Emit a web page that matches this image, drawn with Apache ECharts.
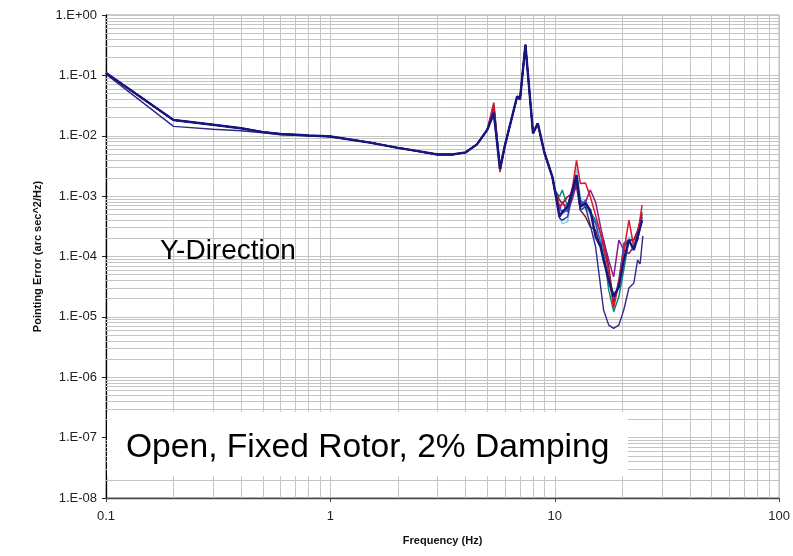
<!DOCTYPE html>
<html>
<head>
<meta charset="utf-8">
<script src="https://cdn.jsdelivr.net/npm/echarts@6/dist/echarts.min.js"></script>
<style>html,body{margin:0;padding:0;background:#fff;}#c{width:793px;height:556px;}</style>
</head>
<body>
<div id="c"></div>
<script>
// ---- data ----
const xTicks = ['0.1', '1', '10', '100'];
const yTicks = ['1.E-08','1.E-07','1.E-06','1.E-05','1.E-04','1.E-03','1.E-02','1.E-01','1.E+00'];

const freqLow = [0.1,0.2,0.3,0.4,0.5,0.6,0.7,0.8,0.9,1,1.5,2,2.5,3,3.5,4,4.5,5,5.35,5.7,6,6.8,7.0,7.4,8.0,8.4,9.0,9.75];
const baseLow = [0.11,0.0182,0.0152,0.0133,0.0115,0.0107,0.0104,0.0101,0.0099,0.0097,0.0077,0.0063,0.0055,0.0049,0.0049,0.0053,0.0072,0.0125,0.024,0.0028,0.007,0.045,0.04,0.32,0.011,0.016,0.0052,0.0021];
const lowerNavyStart = [0.105,0.0143,0.0128,0.0121,0.0112,0.0104,0.0102,0.0100];

const seriesNames = ['Navy','Lower','Red','Purple','Teal','Cyan','Blue','Maroon'];
const peak535 = [0.024,0.022,0.035,0.027,0.030,0.036,0.025,0.032];
const dip57   = [0.0028,0.0028,0.0025,0.0030,0.0031,0.0033,0.0030,0.0026];

const freqHigh = [10,10.5,10.8,11.4,12,12.5,13,13.7,14.4,15.2,16,16.5,17.4,18.3,19.3,20.3,21.4,22.5,23.4,24.5];
const navyHigh   = [1.26e-3,4.55e-4,5.5e-4,6.66e-4,1.26e-3,2.23e-3,6.66e-4,7.56e-4,5.86e-4,2.12e-4,1.45e-4,8.7e-5,4.07e-5,2.15e-5,3.15e-5,8.7e-5,1.87e-4,1.28e-4,2.12e-4,4.0e-4];
const redHigh    = [1.26e-3,6.7e-4,7.6e-4,6.7e-4,1.43e-3,3.9e-3,1.62e-3,1.65e-3,9.8e-4,4.85e-4,2.4e-4,1.55e-4,5.2e-5,1.4e-5,3.7e-5,1.2e-4,4.0e-4,1.45e-4,2.3e-4,7.1e-4];
const purpleHigh = [1.26e-3,5.9e-4,8.0e-4,5.5e-4,9.1e-4,1.62e-3,7.6e-4,8.0e-4,1.26e-3,8.0e-4,3.1e-4,1.87e-4,8.7e-5,4.6e-5,1.87e-4,1.28e-4,1.12e-4,1.45e-4,1.87e-4,4.55e-4];
const tealHigh   = [1.26e-3,9.75e-4,1.26e-3,6.7e-4,1.11e-3,1.84e-3,8.6e-4,6.7e-4,5.5e-4,4.0e-4,2.4e-4,1.28e-4,2.8e-5,1.22e-5,2.15e-5,6.0e-5,1.87e-4,1.87e-4,2.4e-4,5.5e-4];
const cyanHigh   = [1.62e-3,4.55e-4,3.5e-4,3.75e-4,1.26e-3,2.87e-3,9.75e-4,6.2e-4,5.16e-4,3.75e-4,1.87e-4,1.12e-4,3.6e-5,2.45e-5,2.9e-5,1.28e-4,2.12e-4,1.65e-4,2.4e-4,4.4e-4];
const blueHigh   = [1.26e-3,6.7e-4,5.16e-4,5.9e-4,1.26e-3,2.09e-3,6.7e-4,8.6e-4,5.16e-4,3.5e-4,1.65e-4,1.0e-4,4.1e-5,2.3e-5,3.15e-5,1.65e-4,1.87e-4,1.28e-4,2.12e-4,4.0e-4];
const maroonHigh = [1.26e-3,8.6e-4,7.56e-4,9.75e-4,1.11e-3,1.43e-3,5.86e-4,4.55e-4,3.1e-4,2.73e-4,1.45e-4,1.87e-4,6.76e-5,1.67e-5,4.07e-5,1.45e-4,1.87e-4,1.87e-4,2.73e-4,5.0e-4];
const lowerFreqHigh = [10,10.5,10.8,11.4,12,12.5,13,13.7,14.4,15.2,16,16.5,17.4,18.3,19.3,20.3,21.4,22.5,23.4,24,24.7];
const lowerHigh  = [1.26e-3,4.3e-4,4.0e-4,4.55e-4,1.11e-3,1.84e-3,5.86e-4,6.66e-4,3.3e-4,1.45e-4,3.2e-5,1.3e-5,7.3e-6,6.45e-6,7.3e-6,1.3e-5,3.0e-5,3.6e-5,8.7e-5,7.5e-5,2.2e-4];

const minorX = [0.2,0.3,0.4,0.5,0.6,0.7,0.8,0.9, 2,3,4,5,6,7,8,9, 20,30,40,50,60,70,80,90];
const minorYMant = [2,3,4,5,6,7,8,9];
const yDecades = [-8,-7,-6,-5,-4,-3,-2,-1];

// ---- styles ----
const colors = ['#16167e','#2e2a8c','#e0142c','#8c1a8c','#11877a','#7fd0ee','#2f55d4','#7a1e2e'];
const widths = [2.4,1.4,1.5,1.5,1.5,1.5,1.5,1.5];
const drawOrder = [5,4,7,3,6,2,1,0];

function buildSeries(idx){
  const low = freqLow.map((f,i)=>{
    let v = baseLow[i];
    if (i === 18) v = peak535[idx];
    if (i === 19) v = dip57[idx];
    if (idx === 1 && i < lowerNavyStart.length) v = lowerNavyStart[i];
    return [f, v];
  });
  const highs = [navyHigh, lowerHigh, redHigh, purpleHigh, tealHigh, cyanHigh, blueHigh, maroonHigh];
  const hf = idx === 1 ? lowerFreqHigh : freqHigh;
  const high = hf.map((f,i)=>[f, highs[idx][i]]);
  return low.concat(high);
}

const minorYVals = [];
yDecades.forEach(d => minorYMant.forEach(m => minorYVals.push(m * Math.pow(10, d))));

const gridLineStyle = {color:'#c4c4c4', width:1, type:'solid'};
const series = [{
  type:'line', data:[[1,1e-3]], showSymbol:false, lineStyle:{opacity:0}, z:1, silent:true,
  markLine:{
    z:1, silent:true, symbol:['none','none'], label:{show:false}, animation:false, precision:20,
    lineStyle:gridLineStyle, emphasis:{disabled:true},
    data: minorX.map(v=>({xAxis:v})).concat(minorYVals.map(v=>({yAxis:v})))
  }
}];
drawOrder.forEach(idx => {
  series.push({
    name: seriesNames[idx], type:'line', data: buildSeries(idx), showSymbol:false, smooth:false,
    lineStyle:{color:colors[idx], width:widths[idx]}, itemStyle:{color:colors[idx]}, z:6, silent:true
  });
});

const font = "'Liberation Sans', Arial, sans-serif";
const chart = echarts.init(document.getElementById('c'), null, {renderer:'canvas'});
chart.setOption({
  animation:false,
  backgroundColor:'#ffffff',
  grid:{left:106, right:10, top:15, bottom:58, show:true, borderColor:'#9a9a9a', borderWidth:1, backgroundColor:'transparent'},
  xAxis:{
    type:'log', logBase:10, min:0.1, max:100, splitNumber:3,
    name:'Frequency (Hz)', nameLocation:'middle', nameGap:37,
    nameTextStyle:{fontFamily:font, fontWeight:'bold', fontSize:11, color:'#111'},
    axisLine:{show:true, onZero:false, lineStyle:{color:'#444', width:1.3}},
    axisTick:{show:true, length:4, lineStyle:{color:'#444'}},
    axisLabel:{fontFamily:font, fontSize:13, color:'#222', margin:12,
      formatter:v=>{const k=Math.round(Math.log10(v)); return xTicks[k+1];}},
    splitLine:{show:true, lineStyle:gridLineStyle},
    minorTick:{show:false}, minorSplitLine:{show:false}
  },
  yAxis:{
    type:'log', logBase:10, min:1e-8, max:1, splitNumber:8,
    name:'Pointing Error (arc sec^2/Hz)', nameLocation:'middle', nameGap:63, nameRotate:90,
    nameTextStyle:{fontFamily:font, fontWeight:'bold', fontSize:11, color:'#111'},
    axisLine:{show:true, onZero:false, lineStyle:{color:'#000', width:1.3}},
    axisTick:{show:true, length:4, lineStyle:{color:'#222'}},
    axisLabel:{fontFamily:font, fontSize:13, color:'#222', margin:9,
      formatter:v=>{const k=Math.round(Math.log10(v)); return yTicks[k+8];}},
    splitLine:{show:true, lineStyle:gridLineStyle},
    minorTick:{show:false}, minorSplitLine:{show:false}
  },
  graphic:[
    {type:'rect', z:10, silent:true, shape:{x:107, y:412, width:521, height:64}, style:{fill:'#ffffff'}},
    {type:'text', z:11, silent:true, x:126, y:448, style:{text:'Open, Fixed Rotor, 2% Damping', font:"33.6px 'Liberation Sans', Arial, sans-serif", fill:'#000', verticalAlign:'middle', textAlign:'left'}},
    {type:'text', z:11, silent:true, x:160, y:251, style:{text:'Y-Direction', font:"28px 'Liberation Sans', Arial, sans-serif", fill:'#000', verticalAlign:'middle', textAlign:'left'}}
  ],
  series: series
});
</script>
</body>
</html>
